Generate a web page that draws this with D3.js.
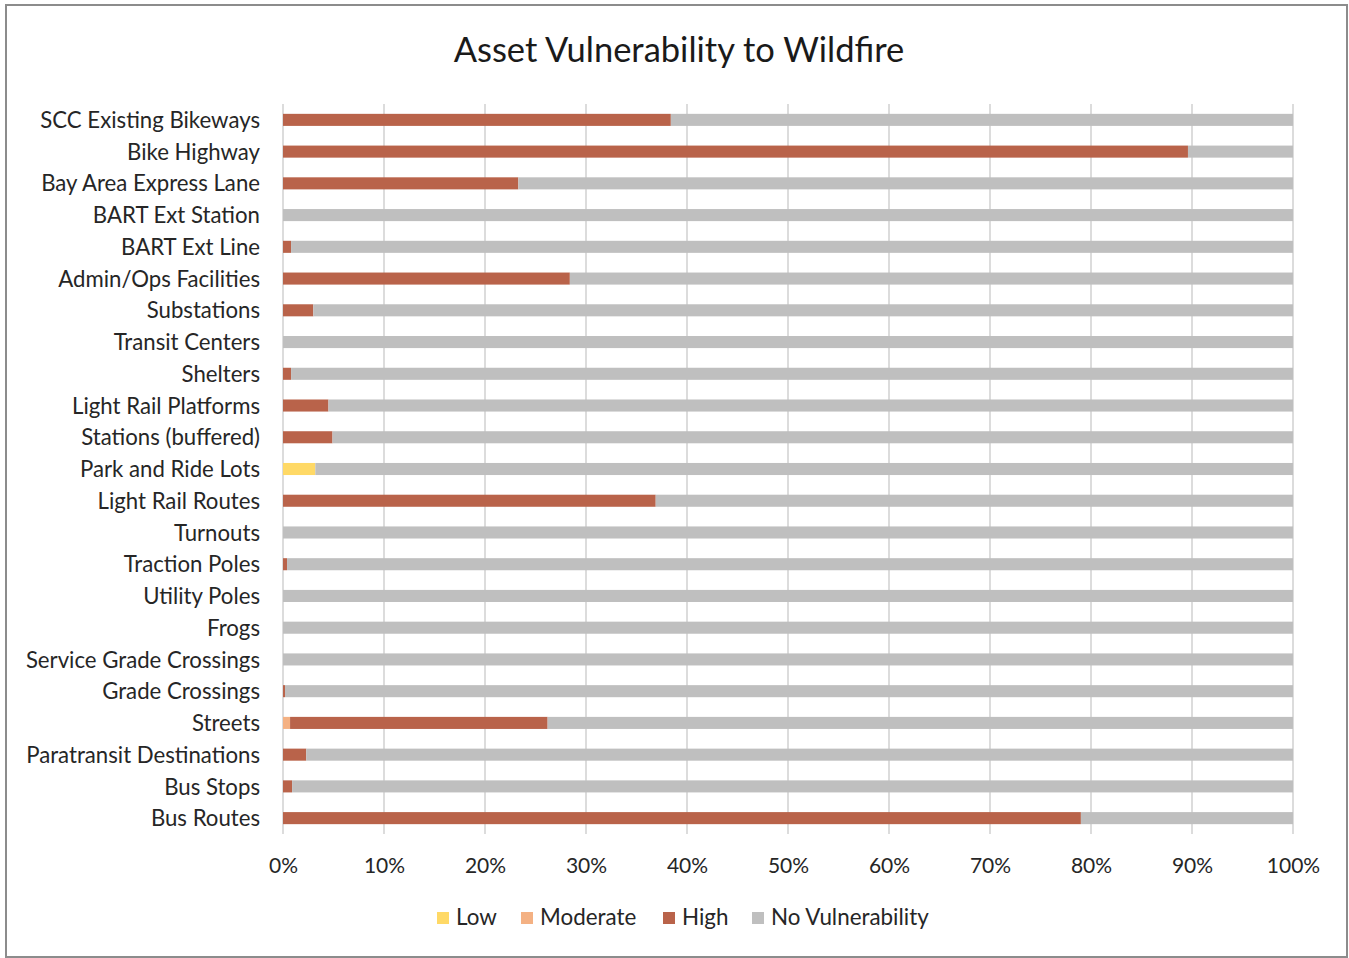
<!DOCTYPE html>
<html><head><meta charset="utf-8">
<script src="https://cdn.jsdelivr.net/npm/d3@7"></script>
<style>body{margin:0;background:#fff;}svg{display:block;font-family:Lato,"Open Sans",sans-serif;}</style>
</head><body><svg id="c" width="1349" height="958"></svg>
<script>
const categories = ["SCC Existing Bikeways","Bike Highway","Bay Area Express Lane","BART Ext Station","BART Ext Line","Admin/Ops Facilities","Substations","Transit Centers","Shelters","Light Rail Platforms","Stations (buffered)","Park and Ride Lots","Light Rail Routes","Turnouts","Traction Poles","Utility Poles","Frogs","Service Grade Crossings","Grade Crossings","Streets","Paratransit Destinations","Bus Stops","Bus Routes"];
const low      = [0,0,0,0,0,0,0,0,0,0,0,3.2,0,0,0,0,0,0,0,0,0,0,0];
const moderate = [0,0,0,0,0,0,0,0,0,0,0,0,0,0,0,0,0,0,0,0.7,0,0,0];
const high     = [38.4,89.6,23.3,0,0.8,28.4,3.0,0,0.8,4.5,4.9,0,36.9,0,0.4,0,0,0,0.2,25.5,2.3,0.9,79.0];
const seriesNames = ["Low","Moderate","High","No Vulnerability"];
const colors = ["#ffd966","#f4b183","#b9634a","#bfbfbf"];
const tickValues = [0,10,20,30,40,50,60,70,80,90,100];

const svg = d3.select("#c");
svg.append("rect").attr("x",6).attr("y",5).attr("width",1341).attr("height",952)
  .attr("fill","#fff").attr("stroke","#8c8c8c").attr("stroke-width",2);

svg.append("text").attr("x",679).attr("y",62).attr("text-anchor","middle")
  .attr("font-size",34.5).attr("fill","#1a1a1a").text("Asset Vulnerability to Wildfire");

const x = d3.scaleLinear().domain([0,100]).range([283,1293]);
const y = d3.scaleBand().domain(categories).range([104,834]).paddingInner(0.62).paddingOuter(0.31);

// gridlines
svg.append("g").selectAll("line").data(tickValues).join("line")
  .attr("x1",d=>x(d)).attr("x2",d=>x(d)).attr("y1",104).attr("y2",834)
  .attr("stroke","#dcdcdc").attr("stroke-width",2);

const rows = categories.map((c,i)=>{
  const vals=[low[i],moderate[i],high[i]];
  const none = 100 - vals.reduce((a,b)=>a+b,0);
  return {cat:c, vals:[...vals, none]};
});
const stacked = d3.stack().keys([0,1,2,3]).value((d,k)=>d.vals[k])(rows);

svg.append("g").selectAll("g").data(stacked).join("g")
  .attr("fill",(d,i)=>colors[i])
  .selectAll("rect").data(d=>d).join("rect")
  .attr("x",d=>x(d[0])).attr("width",d=>Math.max(0,x(d[1])-x(d[0])))
  .attr("y",d=>y(d.data.cat)).attr("height",y.bandwidth());

// y axis labels
const ya = svg.append("g").attr("transform","translate(283,1)")
  .call(d3.axisLeft(y).tickSize(0).tickPadding(23));
ya.select(".domain").remove();
ya.selectAll("text").attr("font-size",22.2).attr("fill","#262626").attr("font-family","Lato,'Open Sans',sans-serif");

// x axis
const xa = svg.append("g").attr("transform","translate(0,834)")
  .call(d3.axisBottom(x).tickValues(tickValues).tickFormat(d=>d+"%").tickSize(0).tickPadding(24));
xa.select(".domain").remove();
xa.selectAll("text").attr("font-size",21).attr("fill","#262626").attr("font-family","Lato,'Open Sans',sans-serif");

// legend
const legX = [437,521,663,752];
const lg = svg.append("g").selectAll("g").data(seriesNames).join("g")
  .attr("transform",(d,i)=>`translate(${legX[i]},912)`);
lg.append("rect").attr("width",12).attr("height",12).attr("fill",(d,i)=>colors[i]);
lg.append("text").attr("x",19).attr("y",13).attr("font-size",22.4).attr("fill","#262626").text(d=>d);
</script></body></html>
